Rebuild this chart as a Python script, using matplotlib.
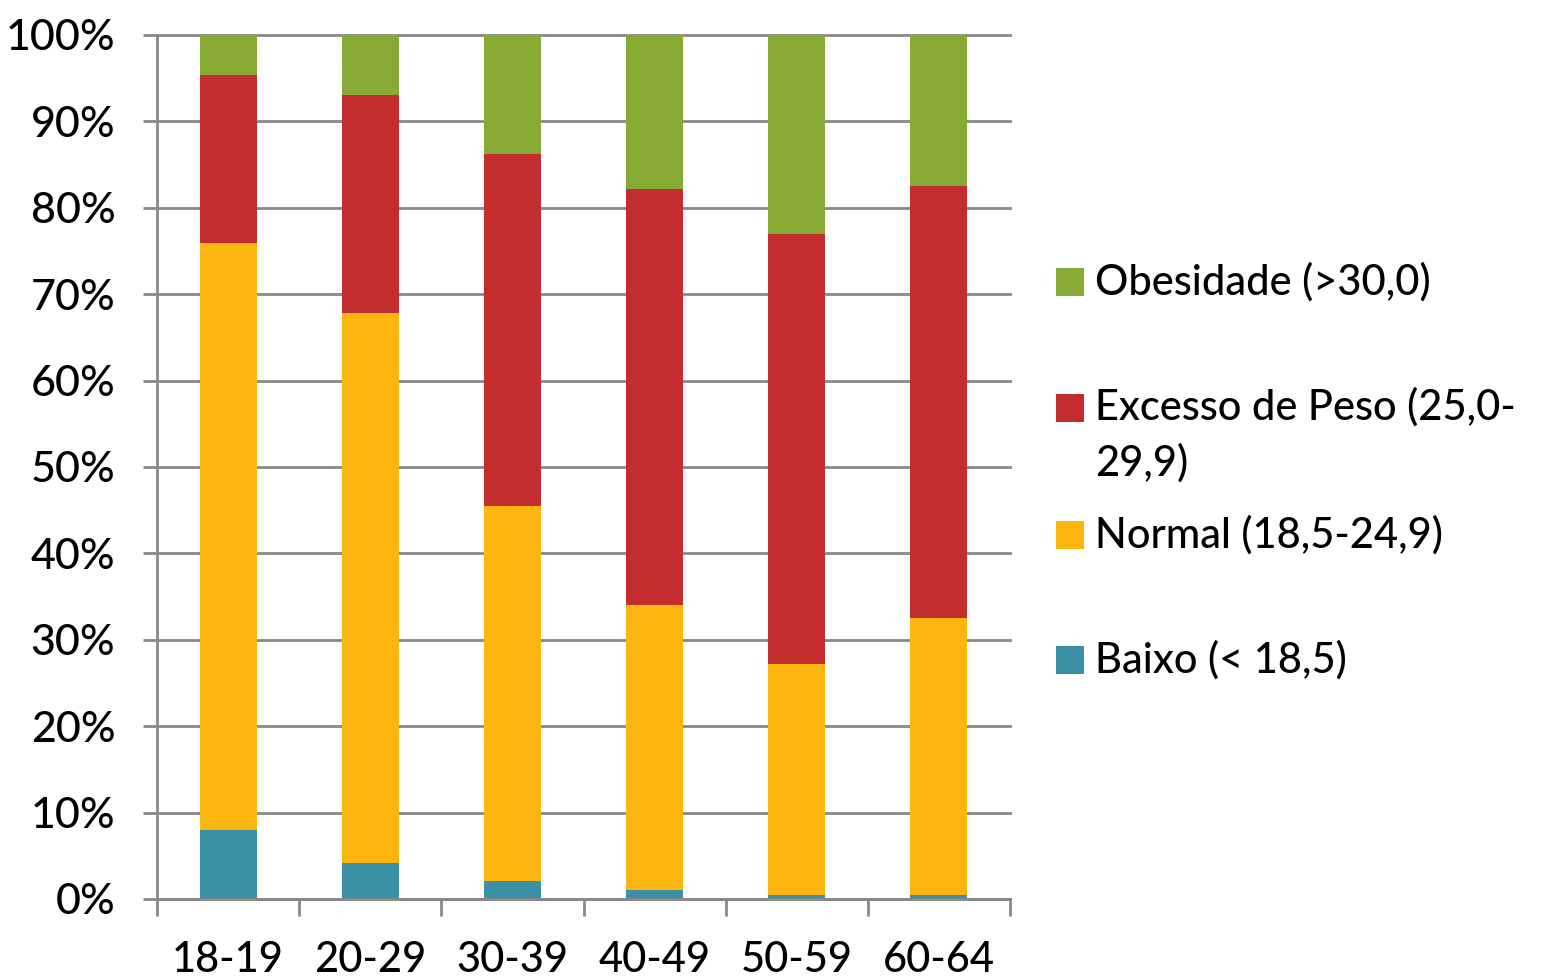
import matplotlib.pyplot as plt
from matplotlib.patches import Rectangle
import numpy as np

plt.rcParams['font.family'] = ['Lato', 'DejaVu Sans']

grupos = ["18-19", "20-29", "30-39", "40-49", "50-59", "60-64"]
baixo = [8.0, 4.2, 2.1, 1.0, 0.5, 0.5]
normal = [67.9, 63.6, 43.4, 33.0, 26.7, 32.0]
excesso = [19.5, 25.3, 40.7, 48.2, 49.8, 50.0]
obesidade = [4.6, 6.9, 13.8, 17.8, 23.0, 17.5]

series = [
    ("Baixo (< 18,5)", baixo, "#3A91A7"),
    ("Normal (18,5-24,9)", normal, "#FDB60F"),
    ("Excesso de Peso (25,0-\n29,9)", excesso, "#C32D2F"),
    ("Obesidade (>30,0)", obesidade, "#86AA34"),
]

GRID = "#898989"

fig = plt.figure(figsize=(15.46, 9.77), dpi=100)
ax = fig.add_axes([157 / 1546, 78 / 977, 853 / 1546, 864 / 977])

x = np.arange(len(grupos))
bottom = np.zeros(len(grupos))
for label, vals, color in series:
    ax.bar(x, vals, width=0.4, bottom=bottom, color=color, zorder=2)
    bottom += np.array(vals)

ax.set_xlim(-0.5, len(grupos) - 0.5)
ax.set_ylim(0, 100)
ax.set_yticks(np.arange(0, 101, 10))
ax.set_yticklabels([f"{v}%" for v in range(0, 101, 10)])
ax.set_xticks(x)
ax.set_xticklabels(grupos)
ax.set_xticks(np.arange(-0.5, len(grupos), 1), minor=True)

ax.yaxis.grid(True, color=GRID, linewidth=2, zorder=0)
ax.set_axisbelow(True)
for gl in ax.get_ygridlines():
    gl.set_clip_on(False)

for s in ["top", "right"]:
    ax.spines[s].set_visible(False)
for s in ["left", "bottom"]:
    ax.spines[s].set_color(GRID)
    ax.spines[s].set_linewidth(2)

ax.tick_params(axis="y", length=10, width=2, color=GRID, pad=20,
               labelsize=31)
ax.tick_params(axis="x", which="major", length=0, pad=30, labelsize=30)
ax.tick_params(axis="x", which="minor", length=12, width=2, color=GRID)
for t in ax.get_xticklabels() + ax.get_yticklabels():
    t.set_fontweight("medium")

# legenda manual, na ordem inversa (como no original)
leg_y = [282, 408, 535, 660]
for (label, vals, color), yy in zip(series[::-1], leg_y):
    fy = 1 - yy / 977
    fig.patches.append(Rectangle((1056 / 1546, fy - 14 / 977), 28 / 1546, 28 / 977,
                                 transform=fig.transFigure, facecolor=color,
                                 edgecolor="none"))
    if "\n" in label:
        fig.text(1095 / 1546, 1 - 387 / 977, label, fontsize=30, va="top",
                 ha="left", linespacing=1.5, fontweight="medium")
    else:
        fig.text(1095 / 1546, fy, label, fontsize=30, va="center", ha="left",
                 fontweight="medium")

fig.savefig("out.png", dpi=100)
